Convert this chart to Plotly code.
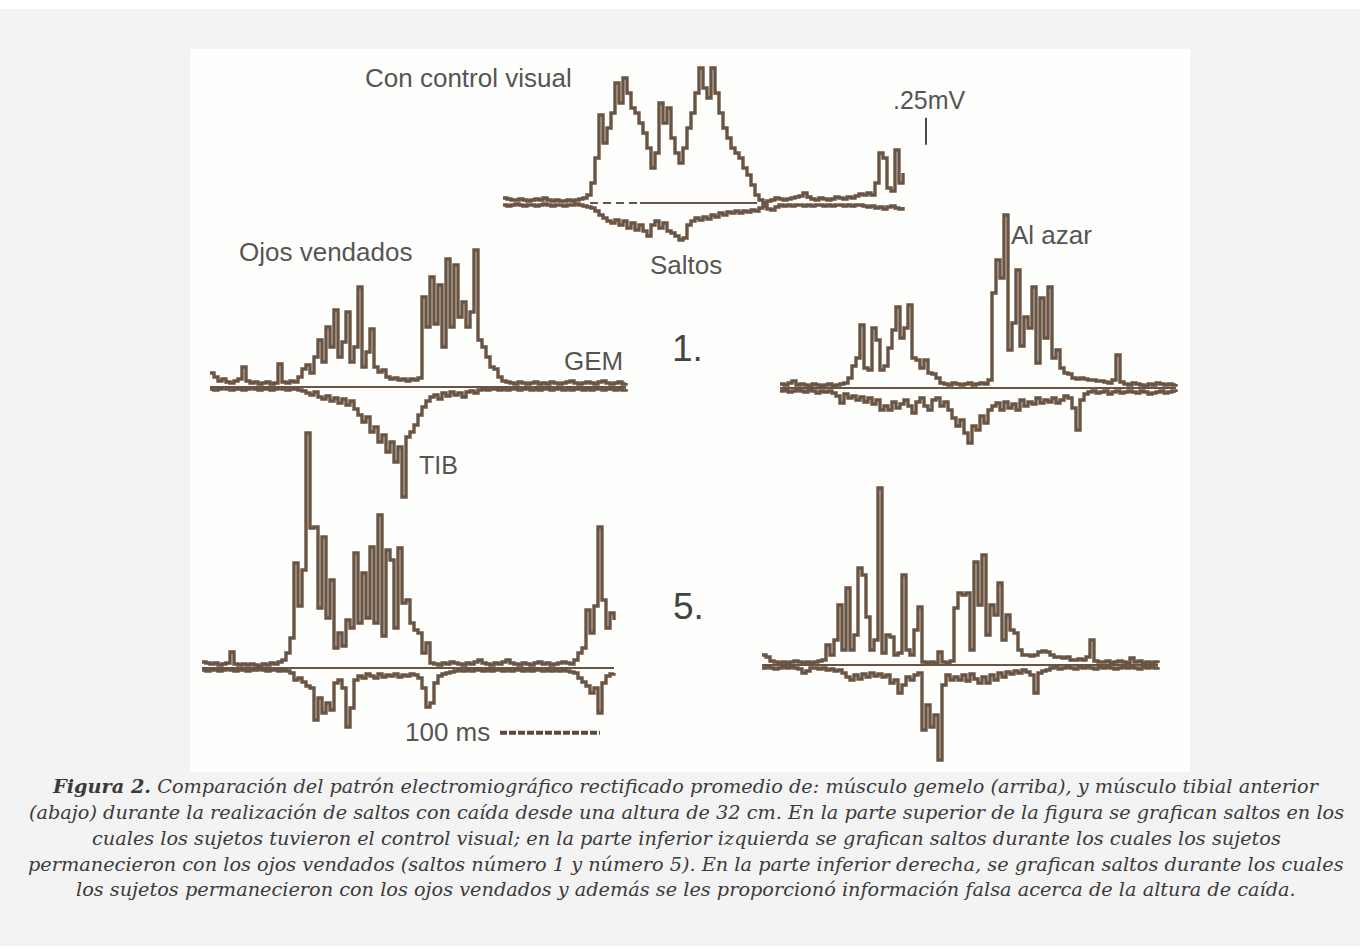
import numpy as np
import plotly.graph_objects as go

# ------------------------------------------------------------------
# DATA  (rectified averaged EMG, sampled every 4 ms;
#        amplitudes in calibration units: 27 units = 0.25 mV)
# ------------------------------------------------------------------
DT_MS = 4
CAL_MV = 0.25
CAL_UNITS = 27

# Con control visual (saltos)
gem_control = [5, 4, 3, 3, 4, 3, 2, 3, 4, 3, 5, 3, 2, 3, 2, 2, 3, 2, 3, 4, 5, 8,
               20, 45, 88, 60, 75, 90, 120, 100, 125, 110, 95, 90, 80, 70, 55, 35, 50, 100,
               80, 95, 65, 50, 40, 55, 75, 90, 110, 135, 115, 105, 135, 110, 90, 75, 65, 55,
               50, 45, 35, 28, 18, 8, 3,
               0, 2, 3, 5, 4, 3, 4, 5, 6, 7, 10, 6, 4, 3, 5, 4, 3, 4, 6, 5,
               4, 6, 5, 7, 9, 8, 10, 8, 20, 50, 45, 15, 12, 53, 20, 30]
tib_control = [2, 3, 2, 1, 2, 3, 2, 2, 3, 2, 1, 2, 3, 2, 2, 3, 2, 2, 1, 2, 3, 4,
               5, 8, 12, 15, 18, 20, 17, 22, 18, 25, 20, 27, 22, 28, 33, 22, 18, 25,
               20, 28, 30, 33, 37, 35, 22, 18, 15, 17, 14, 16, 12, 14, 10, 12, 9, 10,
               8, 10, 8, 9, 7, 8, 5, 3, 6, 7, 4,
               2, 3, 2, 3, 2, 2, 3, 2, 3, 2, 2, 3, 2, 3, 2, 2, 3, 2, 3, 2,
               2, 3, 4, 3, 5, 4, 6, 4, 3, 5, 6, 4]

# Ojos vendados, salto 1
gem_blind1 = [14, 10, 6, 8, 5, 4, 6, 8, 20, 6, 4, 5, 3, 4, 5, 3, 4, 23, 5, 4,
              6, 5, 10, 18, 22, 14, 30, 47, 25, 60, 40, 77, 30, 45, 75, 25, 40, 100, 20, 35,
              58, 20, 15, 17, 10, 8, 9, 7, 8, 6, 8, 7, 9,
              90, 60, 110, 63, 102, 40, 128, 60, 122, 70, 85, 60, 75, 137, 47, 40, 30, 20,
              18, 10, 6, 5,
              4, 3, 5, 4, 3, 4, 5, 3, 4, 3, 5, 4, 3, 4, 5, 6, 4, 3, 4, 5,
              4, 3, 5, 6, 4, 3, 4, 5, 3, 4]
tib_blind1 = [2, 3, 2, 1, 2, 3, 2, 2, 3, 2, 1, 2, 3, 2, 2, 3, 2, 1, 2, 3, 2, 2, 3,
              4, 6, 8, 5, 10, 12, 9, 14, 11, 16, 12, 18, 14, 22, 28, 35, 30, 45, 40, 55,
              48, 65, 55, 75, 60, 110, 50, 45, 38, 28, 20, 14, 10, 8, 12, 6, 9, 5, 8, 6,
              10, 5, 4, 6, 3,
              2, 3, 2, 2, 3, 2, 3, 2, 2, 3, 2, 2, 3, 2, 3, 2, 2, 3, 2, 2,
              3, 2, 3, 2, 2, 3, 2, 3, 2, 2, 3, 2, 2, 3, 2, 3, 2]

# Al azar, salto 1
gem_random1 = [4, 3, 5, 7, 3, 4, 3, 2, 4, 3, 2, 3, 4, 2, 3, 4, 5,
               10, 22, 30, 63, 20, 18, 60, 48, 18, 22, 40, 58, 81, 50, 60, 83, 30, 28, 20, 28,
               15, 14, 10, 5,
               4, 3, 5, 4, 3, 4, 5, 3, 4, 5, 4,
               8, 95, 128, 110, 173, 38, 65, 118, 42, 71, 60, 101, 25, 90, 50, 101, 30, 38,
               20, 15, 14, 10, 9, 10, 9, 8, 8, 7, 7, 6, 5, 8, 33, 6,
               4, 3, 5, 4, 3, 2, 4, 3, 5, 4, 3, 4, 3, 4]
tib_random1 = [3, 2, 4, 3, 2, 3, 4, 2, 3, 5, 3, 4, 3, 5,
               8, 15, 6, 10, 8, 12, 9, 14, 10, 16, 12, 22, 18, 22, 14, 20, 16, 12, 18, 25,
               14, 10, 18, 22, 12, 10, 18, 14, 22, 30, 38, 32, 45, 55, 38, 42, 28, 35, 22, 18,
               15, 22, 14, 20, 16, 22, 12, 18, 14, 16, 10, 15, 12, 14, 10, 15, 12, 8, 10, 20,
               42, 12, 6,
               4, 3, 5, 4, 3, 6, 4, 3, 5, 4, 3, 4, 5, 3, 4, 6, 5, 4, 3, 5, 4, 3, 4]

# Ojos vendados, salto 5
gem_blind5 = [6, 5, 4, 5, 3, 4, 5, 16, 4, 3, 4, 3, 4, 3, 2, 4, 3, 5, 4, 6, 8,
              15, 30, 105, 62, 98, 235, 140, 141, 60, 131, 50, 88, 20, 35, 22, 48, 40, 115,
              45, 95, 50, 121, 45, 153, 32, 118, 108, 40, 120, 65, 68, 45, 38, 35, 15, 25, 5,
              4, 3, 5, 4, 6, 5, 4, 3, 5, 4, 6, 8, 5, 4, 3, 5, 4, 6, 8, 5,
              4, 3, 5, 4, 3, 5, 6, 4, 5, 3, 4, 5, 6, 5, 4, 8,
              15, 20, 58, 35, 62, 141, 68, 40, 55, 48]
tib_blind5 = [2, 3, 2, 2, 3, 2, 1, 2, 3, 2, 2, 3, 2, 2, 1, 2, 3, 2, 2, 3, 2, 3,
              5, 12, 10, 14, 18, 20, 52, 30, 45, 35, 42, 15, 12, 20, 59, 40, 12, 8, 10, 6,
              8, 10, 6, 9, 7, 8, 6, 9, 7, 8, 6, 7, 10, 20, 39, 35, 15, 8, 6, 5,
              4, 3, 2, 3, 2, 3, 2, 2, 3, 2, 3, 2, 2, 3, 2, 3, 2, 2, 3, 2,
              3, 2, 2, 3, 2, 3, 2, 3, 2, 3, 4,
              5, 10, 14, 18, 25, 20, 45, 15, 8, 6, 5]

# Al azar, salto 5
gem_random5 = [10, 8, 4, 3, 2, 3, 2, 3, 4, 3, 2, 3, 2, 3, 4, 5,
               20, 10, 25, 60, 15, 77, 15, 30, 97, 90, 48, 15, 25, 177, 12, 30, 28, 10, 12, 90,
               15, 10, 35, 58,
               3, 2, 3, 2, 13, 3, 2, 4,
               57, 72, 70, 72, 15, 103, 60, 110, 30, 60, 50, 82, 25, 50, 35, 32, 15, 10, 10, 9,
               10, 13, 14, 13, 10, 8, 8, 7, 8, 5, 5, 6, 5, 8, 25, 4, 3,
               3, 4, 2, 3, 4, 3, 2, 7, 3, 4, 2, 3, 2, 3, 2]
tib_random5 = [3, 2, 3, 4, 3, 2, 3, 2, 3, 4, 8, 6, 3,
               3, 4, 3, 5, 4, 6, 5, 8,
               12, 15, 10, 14, 9, 12, 8, 11, 9, 12, 10, 18, 15, 28, 20, 12, 15, 10, 8, 65,
               40, 62, 50, 95, 20, 10, 15, 12, 15, 10, 16, 9, 14, 18, 12, 18, 10, 15, 8, 12,
               7, 9, 6, 8, 5, 7, 10, 28, 8, 6, 5,
               3, 2, 4, 3, 2, 3, 4, 2, 3, 2, 3, 4, 2, 3, 2, 3, 4, 3, 2, 3,
               2, 3, 4, 2, 3, 2, 3, 2]

caption_lines = [
    "<b>Figura 2.</b> Comparación del patrón electromiográfico rectificado promedio de: músculo gemelo (arriba), y músculo tibial anterior",
    "(abajo) durante la realización de saltos con caída desde una altura de 32 cm. En la parte superior de la figura se grafican saltos en los",
    "cuales los sujetos tuvieron el control visual; en la parte inferior izquierda se grafican saltos durante los cuales los sujetos",
    "permanecieron con los ojos vendados (saltos número 1 y número 5). En la parte inferior derecha, se grafican saltos durante los cuales",
    "los sujetos permanecieron con los ojos vendados y además se les proporcionó información falsa acerca de la altura de caída.",
]

# ------------------------------------------------------------------
# LAYOUT / STYLE
# ------------------------------------------------------------------
W, H = 1360, 949
BROWN = "#6a5444"
LABEL = "#555555"
PX_PER_MS = 1.0
PX_PER_MV = CAL_UNITS / CAL_MV   # 108 px per mV

# panel origin (left of trace, baseline) in page pixels
panels = [
    (gem_control, tib_control, (503, 203)),
    (gem_blind1, tib_blind1, (210, 387)),
    (gem_random1, tib_random1, (780, 388)),
    (gem_blind5, tib_blind5, (202, 668)),
    (gem_random5, tib_random5, (762, 665)),
]

fig = go.Figure()
layout_axes = {}

for k, (gem, tib, (x0, yb)) in enumerate(panels, start=1):
    xa = "x" if k == 1 else f"x{k}"
    ya = "y" if k == 1 else f"y{k}"
    xname = "xaxis" if k == 1 else f"xaxis{k}"
    yname = "yaxis" if k == 1 else f"yaxis{k}"
    xcfg = dict(range=[-x0 / PX_PER_MS, (W - x0) / PX_PER_MS], visible=False,
                domain=[0, 1], fixedrange=True)
    ycfg = dict(range=[-(H - yb) / PX_PER_MV, yb / PX_PER_MV], visible=False,
                domain=[0, 1], fixedrange=True)
    if k > 1:
        xcfg["overlaying"] = "x"
        ycfg["overlaying"] = "y"
    xcfg["anchor"] = ya
    ycfg["anchor"] = xa
    layout_axes[xname] = xcfg
    layout_axes[yname] = ycfg

    t = np.arange(len(gem)) * DT_MS
    g = np.array(gem) * CAL_MV / CAL_UNITS
    tb = -np.array(tib) * CAL_MV / CAL_UNITS

    if k == 1:
        # zero reference during the burst (dashed start, solid after)
        fig.add_trace(go.Scatter(x=[87, 137], y=[0, 0], mode="lines",
                                 line=dict(color=BROWN, width=2, dash="8px,5px"),
                                 xaxis=xa, yaxis=ya, showlegend=False, hoverinfo="skip"))
        fig.add_trace(go.Scatter(x=[137, 254], y=[0, 0], mode="lines",
                                 line=dict(color=BROWN, width=2),
                                 xaxis=xa, yaxis=ya, showlegend=False, hoverinfo="skip"))
    else:
        fig.add_trace(go.Scatter(x=[t[0], t[-1]], y=[0, 0], mode="lines",
                                 line=dict(color=BROWN, width=1.8),
                                 xaxis=xa, yaxis=ya, showlegend=False, hoverinfo="skip"))

    for arr in (g, tb):
        fig.add_trace(go.Scatter(x=t, y=arr, mode="lines",
                                 line=dict(color=BROWN, width=3.4, shape="hv"),
                                 xaxis=xa, yaxis=ya, showlegend=False, hoverinfo="skip"))

# calibration bar 0.25 mV (panel 1 axes)
cal_x = 423
cal_base = 0.54
fig.add_trace(go.Scatter(x=[cal_x, cal_x], y=[cal_base, cal_base + CAL_MV], mode="lines",
                         line=dict(color="#4a4a4a", width=2), xaxis="x", yaxis="y",
                         showlegend=False, hoverinfo="skip"))
# time bar 100 ms (panel 4 axes)
fig.add_trace(go.Scatter(x=[298, 298 + 100], y=[-0.6, -0.6], mode="lines",
                         line=dict(color="#5a4a40", width=4, dash="7px,2px"),
                         xaxis="x4", yaxis="y4", showlegend=False, hoverinfo="skip"))


def px(xp, yp):
    return xp / W, 1 - yp / H


annotations = []


def label(text, xp, yp, size=26, color=LABEL, anchor="center", family="Liberation Sans, Arial, sans-serif"):
    x, y = px(xp, yp)
    annotations.append(dict(text=text, x=x, y=y, xref="paper", yref="paper",
                            xanchor=anchor, yanchor="middle", showarrow=False,
                            font=dict(size=size, color=color, family=family)))


label("Con control visual", 468, 78)
label(".25mV", 929, 100, size=25)
label("Saltos", 686, 265)
label("Ojos vendados", 325, 252)
label("GEM", 593, 361)
label("1.", 687, 349, size=37, color="#444444")
label("TIB", 438, 465, size=25)
label("Al azar", 1051, 235)
label("5.", 688, 606, size=37, color="#444444")
label("100 ms", 447, 732)

cap_y = [786, 812, 838, 864, 889]
for line, yp in zip(caption_lines, cap_y):
    label("<i>" + line + "</i>", 686, yp, size=19.3, color="#3a3a3a",
          family="DejaVu Serif, serif")

shapes = [
    dict(type="rect", xref="paper", yref="paper", x0=0, x1=1,
         y0=1 - 946 / H, y1=1 - 9 / H, fillcolor="#f3f3f3", line=dict(width=0), layer="below"),
    dict(type="rect", xref="paper", yref="paper", x0=190 / W, x1=1190 / W,
         y0=1 - 772 / H, y1=1 - 49 / H, fillcolor="#fefefc", line=dict(width=0), layer="below"),
]

fig.update_layout(
    width=W, height=H,
    margin=dict(l=0, r=0, t=0, b=0),
    paper_bgcolor="#ffffff",
    plot_bgcolor="rgba(0,0,0,0)",
    showlegend=False,
    annotations=annotations,
    shapes=shapes,
    **layout_axes,
)

fig.write_html("out.html", config={"displayModeBar": False})
